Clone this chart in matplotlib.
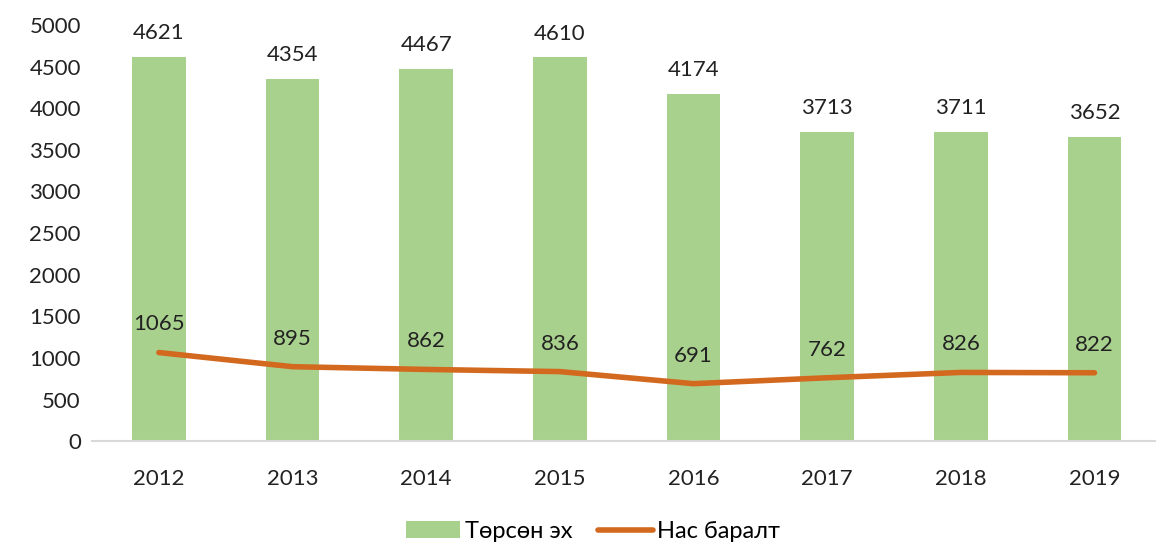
import matplotlib.pyplot as plt
import numpy as np

plt.rcParams['font.family'] = ['Lato', 'DejaVu Sans']

years = ['2012', '2013', '2014', '2015', '2016', '2017', '2018', '2019']
births = [4621, 4354, 4467, 4610, 4174, 3713, 3711, 3652]
deaths = [1065, 895, 862, 836, 691, 762, 826, 822]

fig = plt.figure(figsize=(11.56, 5.44), dpi=100)
ax = fig.add_axes([0.0796, 0.189, 0.925, 0.765])

x = np.arange(len(years))
bars = ax.bar(x, births, width=0.4, color='#A9D18E', label='Төрсөн эх', zorder=2)
line, = ax.plot(x, deaths, color='#D2691E', lw=4, solid_capstyle='round', label='Нас баралт', zorder=3)

for xi, v in zip(x, births):
    ax.annotate(str(v), (xi, v), xytext=(0, 10), textcoords='offset points',
                ha='center', va='bottom', fontsize=16, color='#222222')
for xi, v in zip(x, deaths):
    ax.annotate(str(v), (xi, v), xytext=(0, 13), textcoords='offset points',
                ha='center', va='bottom', fontsize=16, color='#222222')

ax.set_xlim(-0.5, len(years) - 0.5)
ax.set_ylim(0, 5000)
ax.set_yticks(range(0, 5001, 500))
ax.set_xticks(x)
ax.set_xticklabels(years)
ax.tick_params(axis='both', length=0, labelsize=16, colors='#222222')
ax.tick_params(axis='x', pad=20)
ax.tick_params(axis='y', pad=8)
for s in ['top', 'right', 'left']:
    ax.spines[s].set_visible(False)
ax.spines['bottom'].set_color('#D9D9D9')
ax.spines['bottom'].set_linewidth(1.5)

fig.legend([bars, line], ['Төрсөн эх', 'Нас баралт'], loc='lower center',
           bbox_to_anchor=(0.513, -0.035), ncol=2, frameon=False,
           fontsize=17, handlelength=2.3, handletextpad=0.2, columnspacing=1.1)

fig.savefig('out.png', dpi=100)
